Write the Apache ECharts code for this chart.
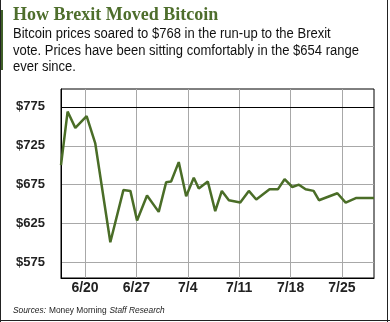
<!DOCTYPE html>
<html><head><meta charset="utf-8">
<script src="https://cdn.jsdelivr.net/npm/echarts@6/dist/echarts.min.js"></script>
<style>html,body{margin:0;padding:0;background:#fff}#c{width:390px;height:322px}</style>
</head><body><div id="c"></div>
<script>
// days relative to 6/20 and Bitcoin price (USD)
const dayOffsets = [-3.27,-2.37,-1.32,0.22,1.40,3.45,5.23,6.18,7.09,8.45,10.04,11.05,11.73,12.77,13.78,14.82,15.5,16.73,17.74,18.64,19.6,21.15,22.32,23.33,25.14,26.27,27.19,28.24,29.14,30.05,31.14,31.87,34.38,35.51,36.97,39.37];
const prices = [700,769,748,763,728,601,668,667,629,661,640,678,679,704,660,684,670,679,641,667,655,652,667,656,669,669,682,672,675,669,667,655,664,652,658,658];
const xTickDays = [0,7,14,21,28,35];
const xTickLabels = ['6/20','6/27','7/4','7/11','7/18','7/25'];
const yTicks = [575,625,675,725,775];

const chart = echarts.init(document.getElementById('c'), null, {renderer:'canvas'});
const green = '#4a6d27';
chart.setOption({
  animation:false,
  grid:{left:61,right:16,top:89,bottom:44,show:true,borderColor:'#000',borderWidth:1,backgroundColor:'transparent'},
  xAxis:{type:'value',min:-3.27,max:39.37,
    axisLine:{show:true,onZero:false,lineStyle:{color:'#000',width:1}},
    axisTick:{show:false,customValues:xTickDays},
    axisLabel:{customValues:xTickDays,margin:3,color:'#222',fontFamily:'Liberation Sans',fontWeight:'bold',fontSize:14,
      formatter:v=>{const i=xTickDays.indexOf(v);return i>=0?xTickLabels[i]:'';}},
    splitLine:{show:true,lineStyle:{color:'#a8a8a8',width:1}}
  },
  yAxis:{type:'value',min:555,max:798,
    axisLine:{show:true,onZero:false,lineStyle:{color:'#000',width:1}},
    axisTick:{show:false,customValues:yTicks},
    axisLabel:{customValues:yTicks,margin:16,color:'#222',fontFamily:'Liberation Sans',fontWeight:'bold',fontSize:13,
      formatter:v=>'$'+v},
    splitLine:{show:true,lineStyle:{color:'#a8a8a8',width:1}}
  },
  series:[{type:'line',data:dayOffsets.map((d,i)=>[d,prices[i]]),symbol:'none',
    lineStyle:{color:green,width:2.5},
    markLine:{silent:true,symbol:'none',label:{show:false},lineStyle:{color:'#000',width:1,type:'solid'},data:[{yAxis:775}]}
  }],
  graphic:[
    {type:'rect',shape:{x:0,y:10,width:3,height:60},style:{fill:'#3f5f28'}},
    {type:'line',shape:{x1:0.5,y1:0,x2:0.5,y2:322},style:{stroke:'#222',lineWidth:1}},
    {type:'line',shape:{x1:387.5,y1:0,x2:387.5,y2:322},style:{stroke:'#222',lineWidth:1}},
    {type:'line',shape:{x1:0,y1:320.5,x2:390,y2:320.5},style:{stroke:'#222',lineWidth:1}},
    {type:'text',x:13,y:6,style:{text:'How Brexit Moved Bitcoin',fill:'#4e6e2c',font:'bold 18px "Liberation Serif"'}},
    {type:'text',x:13,y:26,scaleX:0.93,style:{text:'Bitcoin prices soared to $768 in the run-up to the Brexit\nvote. Prices have been sitting comfortably in the $654 range\never since.',fill:'#111',font:'14px "Liberation Sans"',lineHeight:16.5}},
    {type:'text',x:13,y:304,scaleX:0.88,style:{rich:{i:{fontStyle:'italic',fontFamily:'Liberation Sans',fontSize:9.5,fill:'#222'},n:{fontFamily:'Liberation Sans',fontSize:9.5,fill:'#222'}},text:'{i|Sources:} {n|Money Morning} {i|Staff Research}'}}
  ]
});
</script></body></html>
